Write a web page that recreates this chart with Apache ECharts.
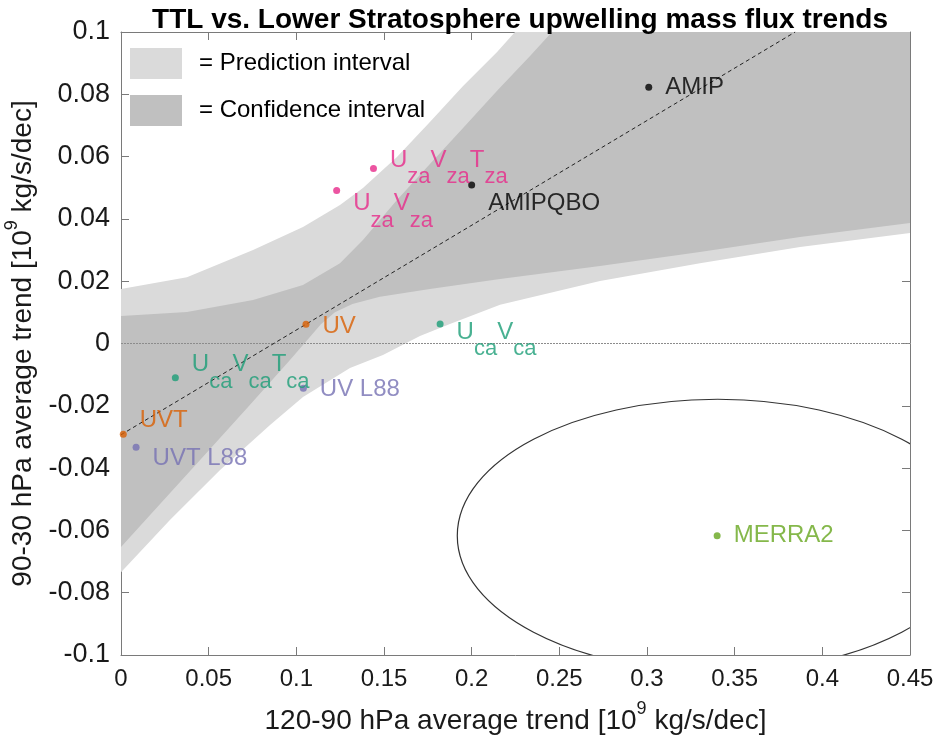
<!DOCTYPE html>
<html><head><meta charset="utf-8">
<script src="https://cdn.jsdelivr.net/npm/echarts@6/dist/echarts.min.js"></script>
<style>html,body{margin:0;padding:0;background:#fff}#c{width:938px;height:741px}</style>
</head><body><div id="c"></div>
<script>
// ---- data ----
const pointNames = ['AMIP','AMIPQBO','UzaVzaTza','UzaVza','UV','UcaVca','UcaVcaTca','UV L88','UVT','UVT L88','MERRA2'];
const pointX = [0.301, 0.200, 0.144, 0.123, 0.1055, 0.182, 0.031, 0.104, 0.0013, 0.0086, 0.340];
const pointY = [0.0823, 0.0509, 0.0562, 0.0491, 0.0062, 0.0063, -0.011, -0.0144, -0.0291, -0.0333, -0.0617];

const fitX = [0, 0.3845];
const fitY = [-0.0293, 0.1];

const zeroX = [0, 0.45];
const zeroY = [0, 0];

const predUpperX = [0, 0.0376, 0.0753, 0.1038, 0.1249, 0.1380, 0.1574, 0.1762, 0.1951, 0.2145, 0.2247, 0.45];
const predUpperY = [0.0175, 0.0213, 0.0300, 0.0374, 0.0445, 0.0499, 0.0599, 0.0711, 0.0827, 0.0936, 0.1, 0.1];
const predLowerX = [0, 0.0279, 0.0565, 0.0850, 0.1038, 0.1306, 0.1494, 0.1705, 0.1876, 0.2162, 0.2732, 0.3302, 0.3873, 0.45];
const predLowerY = [-0.0734, -0.0567, -0.0406, -0.0262, -0.0172, -0.0079, -0.0037, 0.0024, 0.0063, 0.0124, 0.0201, 0.0258, 0.0310, 0.0355];
const confUpperX = [0, 0.0376, 0.0753, 0.1038, 0.1249, 0.1380, 0.1574, 0.1762, 0.1951, 0.2145, 0.2333, 0.2458, 0.45];
const confUpperY = [0.0088, 0.0101, 0.0140, 0.0188, 0.0258, 0.0332, 0.0461, 0.0576, 0.0692, 0.0811, 0.0923, 0.1, 0.1];
const confLowerX = [0, 0.0451, 0.0736, 0.0960, 0.1060, 0.1140, 0.1220, 0.1320, 0.1477, 0.1762, 0.2162, 0.2732, 0.3302, 0.3873, 0.45];
const confLowerY = [-0.0653, -0.0374, -0.0197, -0.0055, 0.0010, 0.0062, 0.0100, 0.0127, 0.0150, 0.0175, 0.0207, 0.0249, 0.0294, 0.0342, 0.0387];

const ellipseCenter = [0.3403, -0.0617];
const ellipseRadii = [0.1485, 0.0438];

const xMin = 0, xMax = 0.45, xStep = 0.05;
const yMin = -0.1, yMax = 0.1, yStep = 0.02;

const titleText = 'TTL vs. Lower Stratosphere upwelling mass flux trends';
const legendNames = ['Prediction interval', 'Confidence interval'];

// ---- styling ----
const FONT = '"Liberation Sans", Arial, Helvetica, sans-serif';
const C = {pink:'#e7298a', teal:'#1b9e77', orange:'#d95f02', purple:'#7570b3', green:'#66a61e', black:'#000000'};
const pointStyle = {
  'AMIP':      {color:C.black,  dy:0,   text:'AMIP'},
  'AMIPQBO':   {color:C.black,  dy:18,  text:'AMIPQBO'},
  'UzaVzaTza': {color:C.pink,   dy:0,   text:'{sp|\u200b}{m|U}{s|za}{m|V}{s|za}{m|T}{s|za}'},
  'UzaVza':    {color:C.pink,   dy:21,  text:'{sp|\u200b}{m|U}{s|za}{m|V}{s|za}'},
  'UV':        {color:C.orange, dy:2,   text:'UV'},
  'UcaVca':    {color:C.teal,   dy:16,  text:'{sp|\u200b}{m|U}{s|ca}{m|V}{s|ca}'},
  'UcaVcaTca': {color:C.teal,   dy:-5,  text:'{sp|\u200b}{m|U}{s|ca}{m|V}{s|ca}{m|T}{s|ca}'},
  'UV L88':    {color:C.purple, dy:1,   text:'UV L88'},
  'UVT':       {color:C.orange, dy:-14, text:'UVT'},
  'UVT L88':   {color:C.purple, dy:11,  text:'UVT L88'},
  'MERRA2':    {color:C.green,  dy:0,   text:'MERRA2'}
};

function zip(xs, ys){ return xs.map((x,i)=>[x, ys[i]]); }
function bandPoints(ux, uy, lx, ly){
  return zip(ux, uy).concat(zip(lx, ly).reverse());
}
const predPoly = bandPoints(predUpperX, predUpperY, predLowerX, predLowerY);
const confPoly = bandPoints(confUpperX, confUpperY, confLowerX, confLowerY);

function polySeries(name, pts, color, z){
  return {
    name: name, type:'custom', z:z, clip:true, silent:true,
    itemStyle:{color:color},
    data:[[pts[0][0], pts[0][1]]],
    renderItem: function(params, api){
      return {type:'polygon', shape:{points: pts.map(p=>api.coord(p))}, style:{fill:color, stroke:null}};
    }
  };
}

const scatterData = pointNames.map((n,i)=>{
  const s = pointStyle[n];
  return {
    name:n, value:[pointX[i], pointY[i]],
    itemStyle:{color:s.color},
    label:{show:true, position:'right', distance:13, offset:[0, s.dy], color:s.color,
      fontFamily:FONT, fontSize:24, formatter: s.text,
      rich:{
        sp:{fontSize:1, lineHeight:40},
        m:{fontSize:24, lineHeight:24, verticalAlign:'top', color:s.color, fontFamily:FONT},
        s:{fontSize:22, lineHeight:24, verticalAlign:'bottom', color:s.color, fontFamily:FONT}
      }}
  };
});

const axisLineColor = '#7a7a7a';
const nameRich = {
  sp:{fontSize:1, lineHeight:35},
  n:{fontSize:28, lineHeight:28, verticalAlign:'bottom', fontFamily:FONT, color:'#1a1a1a'},
  sup:{fontSize:18, lineHeight:18, verticalAlign:'top', fontFamily:FONT, color:'#1a1a1a'}
};
function boxAxis(extra){
  return Object.assign({
    axisLine:{show:true, onZero:false, lineStyle:{color:axisLineColor, width:1}},
    axisTick:{show:true, inside:true, length:8, lineStyle:{color:axisLineColor}},
    splitLine:{show:false}
  }, extra);
}

const chart = echarts.init(document.getElementById('c'), null, {renderer:'canvas'});
chart.setOption({
  backgroundColor:'#ffffff',
  animation:false,
  title:{text:titleText, left:515, top:1, textAlign:'center',
    textStyle:{fontFamily:FONT, fontSize:28, fontWeight:'bold', color:'#000'}},
  legend:{
    data:legendNames, orient:'vertical', left:130, top:48, padding:0, itemWidth:52, itemHeight:31, itemGap:16,
    icon:'rect', selectedMode:false, formatter:'= {name}',
    textStyle:{fontFamily:FONT, fontSize:24, color:'#000', padding:[0,0,0,12]}
  },
  grid:{left:121, right:28, top:32, bottom:86, containLabel:false, outerBoundsMode:'none'},
  xAxis:[boxAxis({
    type:'value', min:xMin, max:xMax, interval:xStep,
    name:'{n|120-90 hPa average trend [10}{sup|9}{n| kg/s/dec]}{sp|\u200b}', nameLocation:'middle', nameGap:45,
    nameTextStyle:{rich:nameRich},
    axisLabel:{fontFamily:FONT, fontSize:24, color:'#1a1a1a', margin:12}
  }), boxAxis({
    type:'value', position:'top', min:xMin, max:xMax, interval:xStep,
    axisLabel:{show:false}
  })],
  yAxis:[boxAxis({
    type:'value', min:yMin, max:yMax, interval:yStep,
    name:'{n|90-30 hPa average trend [10}{sup|9}{n| kg/s/dec]}{sp|\u200b}', nameLocation:'middle', nameGap:74,
    nameTextStyle:{rich:nameRich},
    axisLabel:{fontFamily:FONT, fontSize:27, color:'#1a1a1a', margin:11}
  }), boxAxis({
    type:'value', position:'right', min:yMin, max:yMax, interval:yStep,
    axisLabel:{show:false}
  })],
  series:[
    polySeries(legendNames[0], predPoly, '#dadada', 1),
    polySeries(legendNames[1], confPoly, '#c0c0c0', 2),
    {type:'line', z:3, silent:true, symbol:'none', data:zip(zeroX, zeroY),
      lineStyle:{color:'#8c8c8c', width:1.2, type:[2,1]}},
    {type:'line', z:4, silent:true, symbol:'none', data:zip(fitX, fitY),
      lineStyle:{color:'#222', width:1, type:[4,3]}},
    {type:'custom', z:4, clip:true, silent:true, data:[ellipseCenter],
      renderItem:function(params, api){
        const c = api.coord(ellipseCenter);
        const s = api.size(ellipseRadii);
        return {type:'ellipse', shape:{cx:c[0], cy:c[1], rx:s[0], ry:s[1]},
          style:{fill:'none', stroke:'#333', lineWidth:1.2}};
      }},
    {type:'scatter', z:6, symbol:'circle', symbolSize:7, data:scatterData}
  ]
});
</script></body></html>
